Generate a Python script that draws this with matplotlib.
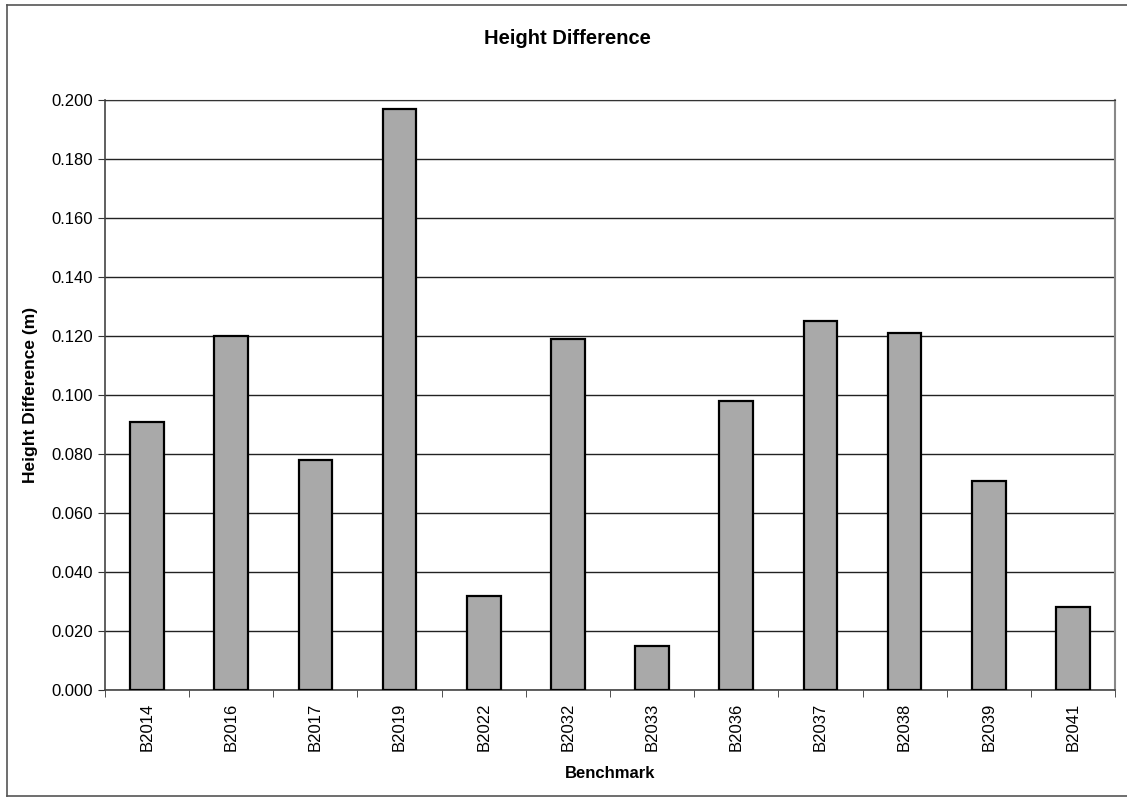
import matplotlib

matplotlib.use("Agg")
import matplotlib.pyplot as plt
from matplotlib.lines import Line2D

plt.rcParams["font.family"] = ["Liberation Sans", "DejaVu Sans"]

benchmarks = ["B2014", "B2016", "B2017", "B2019", "B2022", "B2032",
              "B2033", "B2036", "B2037", "B2038", "B2039", "B2041"]
height_diff = [0.091, 0.120, 0.078, 0.197, 0.032, 0.119,
               0.015, 0.098, 0.125, 0.121, 0.071, 0.028]
y_ticks = [0.000, 0.020, 0.040, 0.060, 0.080, 0.100,
           0.120, 0.140, 0.160, 0.180, 0.200]

W, H = 1127, 798
fig = plt.figure(figsize=(W / 100, H / 100), dpi=100)
ax = fig.add_axes([105 / W, 1 - 690 / H, (1115 - 105) / W, (690 - 100) / H])

x = list(range(len(benchmarks)))
ax.bar(x, height_diff, width=0.4, color="#a9a9a9", edgecolor="black",
       linewidth=1.6, zorder=3)

ax.set_xlim(-0.5, len(benchmarks) - 0.5)
ax.set_ylim(0, 0.2)
ax.set_yticks(y_ticks)
ax.set_yticklabels([f"{v:.3f}" for v in y_ticks], fontsize=12)
ax.set_xticks(x)
ax.set_xticklabels(benchmarks, rotation=90, fontsize=12)
ax.set_xticks([i - 0.5 for i in range(len(benchmarks) + 1)], minor=True)
ax.tick_params(axis="x", which="major", length=0, pad=9)
ax.tick_params(axis="x", which="minor", length=5, direction="out", color="#333333")
ax.tick_params(axis="y", length=5, direction="out", color="#333333", pad=4)

ax.grid(True, axis="y", color="#222222", linewidth=1.0, zorder=0)
for side in ("left", "bottom"):
    ax.spines[side].set_color("#444444")
    ax.spines[side].set_linewidth(1.2)
ax.spines["top"].set_color("#333333")
ax.spines["right"].set_color("#888888")
ax.spines["right"].set_linewidth(1.5)

ax.set_xlabel("Benchmark", fontsize=12, fontweight="bold", labelpad=11)
ax.set_ylabel("Height Difference (m)", fontsize=12.5, fontweight="bold", labelpad=9)
fig.text(567 / W, 1 - 39 / H, "Height Difference", ha="center", va="center",
         fontsize=14.5, fontweight="bold")

# outer chart border
for xs, ys in [((7 / W, 7 / W), (1 - 5 / H, 1 - 796 / H)),
               ((7 / W, 1), (1 - 5 / H, 1 - 5 / H)),
               ((7 / W, 1), (1 - 796 / H, 1 - 796 / H))]:
    fig.add_artist(Line2D(xs, ys, color="#555555", linewidth=1.2))

fig.savefig("out.png", dpi=100)
